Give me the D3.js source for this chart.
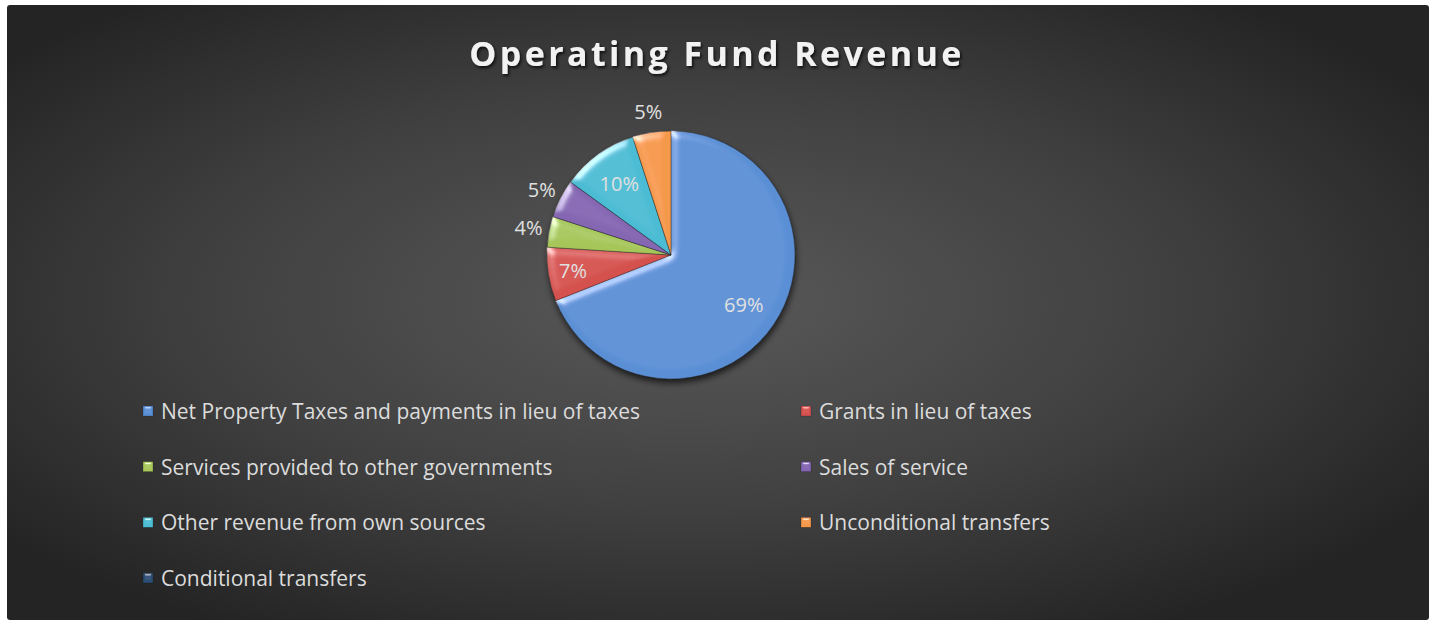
<!DOCTYPE html>
<html>
<head>
<meta charset="utf-8">
<script src="https://cdn.jsdelivr.net/npm/d3@7/dist/d3.min.js"></script>
<style>
  html, body { margin: 0; padding: 0; background: #ffffff; }
  svg { display: block; }
</style>
</head>
<body>
<svg id="chart" width="1434" height="623"></svg>
<script>
// Operating fund revenue by source (share of total, %)
const categories = [
  "Net Property Taxes and payments in lieu of taxes",
  "Grants in lieu of taxes",
  "Services provided to other governments",
  "Sales of service",
  "Other revenue from own sources",
  "Unconditional transfers",
  "Conditional transfers"
];
const shares = [69, 7, 4, 5, 10, 5, 0];
const sliceColors = ["#5a8fd5", "#d4514e", "#a6c65a", "#8566b2", "#4cbcd3", "#f4984a", "#2c4d75"];
const chartTitle = "Operating Fund Revenue";

const svg = d3.select("#chart");
const defs = svg.append("defs");
const FONT = "'Open Sans', Lato, sans-serif";

// Chart area background: soft radial glow on charcoal
const bg = defs.append("radialGradient").attr("id", "bgGrad")
  .attr("cx", "48%").attr("cy", "48%").attr("r", "62%");
bg.append("stop").attr("offset", "0%").attr("stop-color", "#595959");
bg.append("stop").attr("offset", "55%").attr("stop-color", "#404040");
bg.append("stop").attr("offset", "100%").attr("stop-color", "#242424");

// Bevel: specular rim from a blurred alpha height map
function makeBevel(id, blur, scale, azimuth) {
  const f = defs.append("filter").attr("id", id)
    .attr("x", "-20%").attr("y", "-20%").attr("width", "140%").attr("height", "140%");
  f.append("feGaussianBlur").attr("in", "SourceAlpha").attr("stdDeviation", blur).attr("result", "blur");
  const s = f.append("feSpecularLighting").attr("in", "blur")
    .attr("surfaceScale", scale).attr("specularConstant", 0.7).attr("specularExponent", 22)
    .attr("lighting-color", "#ffffff").attr("result", "spec");
  s.append("feDistantLight").attr("azimuth", azimuth).attr("elevation", 28);
  f.append("feComposite").attr("in", "spec").attr("in2", "SourceAlpha").attr("operator", "in").attr("result", "specIn");
  f.append("feComposite").attr("in", "SourceGraphic").attr("in2", "specIn")
    .attr("operator", "arithmetic").attr("k1", 0).attr("k2", 1).attr("k3", 0.8).attr("k4", 0);
}
makeBevel("bevel", 4, 4, 225);
makeBevel("keyBevel", 1.2, 3, 270);

// Shadow under the pie
const pieShadow = defs.append("filter").attr("id", "pieShadow")
  .attr("x", "-20%").attr("y", "-20%").attr("width", "140%").attr("height", "140%");
pieShadow.append("feDropShadow").attr("dx", 1).attr("dy", 4).attr("stdDeviation", 3)
  .attr("flood-color", "#000").attr("flood-opacity", 0.65);

// Title shadow
const titleShadow = defs.append("filter").attr("id", "titleShadow")
  .attr("x", "-10%").attr("y", "-30%").attr("width", "120%").attr("height", "160%");
titleShadow.append("feDropShadow").attr("dx", 1.5).attr("dy", 2).attr("stdDeviation", 1.5)
  .attr("flood-color", "#000").attr("flood-opacity", 0.75);

svg.append("rect")
  .attr("x", 7).attr("y", 5).attr("width", 1422).attr("height", 615).attr("rx", 3)
  .attr("fill", "url(#bgGrad)");

svg.append("text")
  .attr("x", 717).attr("y", 66)
  .attr("text-anchor", "middle")
  .attr("font-family", FONT)
  .attr("font-weight", "bold")
  .attr("font-size", 34)
  .attr("letter-spacing", 3.4)
  .attr("fill", "#f2f2f2")
  .attr("filter", "url(#titleShadow)")
  .text(chartTitle);

// Pie
const cx = 671, cy = 255, R = 124;
const pie = d3.pie().sort(null).value(d => d).startAngle(0).endAngle(2 * Math.PI);
const arcs = pie(shares);
const arc = d3.arc().innerRadius(0).outerRadius(R);

const pieG = svg.append("g").attr("transform", `translate(${cx},${cy})`);
const slicesG = pieG.append("g").attr("filter", "url(#pieShadow)");
slicesG.selectAll("path")
  .data(arcs.filter(a => a.data > 0))
  .join("path")
  .attr("d", arc)
  .attr("fill", d => sliceColors[d.index])
  .attr("filter", "url(#bevel)")
  .attr("stroke", "rgba(30,30,30,0.55)")
  .attr("stroke-width", 0.8);

// Data labels: inside for larger slices, outside for small ones
const labelArc = share => {
  const f = share >= 10 ? 0.71 : share >= 7 ? 0.8 : 1.17;
  return d3.arc().innerRadius(R * f).outerRadius(R * f);
};
pieG.selectAll("text.pct")
  .data(arcs.filter(a => a.data > 0))
  .join("text")
  .attr("class", "pct")
  .attr("transform", d => `translate(${labelArc(d.data).centroid(d)})`)
  .attr("text-anchor", "middle")
  .attr("dominant-baseline", "central")
  .attr("font-family", FONT)
  .attr("font-size", 20)
  .attr("fill", "#e0e0e0")
  .text(d => d3.format(".0%")(d.data / 100));

// Legend: two columns
const colX = [143, 801];
const rowY = d3.scalePoint().domain(d3.range(4)).range([411, 578]);
const items = svg.append("g").selectAll("g")
  .data(categories)
  .join("g")
  .attr("transform", (d, i) => `translate(${colX[i % 2]},${rowY(Math.floor(i / 2))})`);
items.append("rect")
  .attr("x", 0).attr("y", -5).attr("width", 10).attr("height", 10)
  .attr("fill", (d, i) => sliceColors[i])
  .attr("stroke", "rgba(0,0,0,0.35)").attr("stroke-width", 0.6)
  .attr("filter", "url(#keyBevel)");
items.append("text")
  .attr("x", 18).attr("y", 0)
  .attr("dominant-baseline", "central")
  .attr("font-family", FONT)
  .attr("font-size", 21)
  .attr("fill", "#dcdcdc")
  .text(d => d);
</script>
</body>
</html>
